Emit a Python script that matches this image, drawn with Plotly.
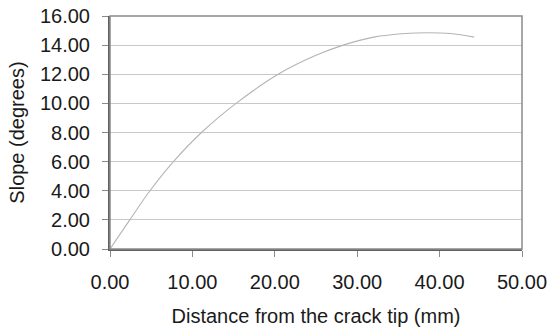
import plotly.graph_objects as go

distance_mm = [0, 2.4, 4.85, 7.7, 11.1, 15.3, 20.4, 25.0, 28.3, 32.0, 35.8, 38.5, 41.3, 44.2]
slope_deg = [0, 2.0, 4.0, 6.0, 8.0, 10.0, 12.0, 13.3, 14.0, 14.55, 14.8, 14.85, 14.8, 14.55]

x_ticks = [0, 10, 20, 30, 40, 50]
y_ticks = [0, 2, 4, 6, 8, 10, 12, 14, 16]

font_family = "Liberation Sans, Arial, sans-serif"

fig = go.Figure()
fig.add_trace(go.Scatter(
    x=distance_mm, y=slope_deg, mode="lines",
    line=dict(color="#b4b4b4", width=1.1, shape="spline", smoothing=1.0),
    hoverinfo="skip", showlegend=False,
))

fig.update_layout(
    width=548, height=330,
    margin=dict(l=110, r=26, t=16, b=81),
    paper_bgcolor="white", plot_bgcolor="white",
    font=dict(family=font_family, size=20, color="#1a1a1a"),
    showlegend=False,
    shapes=[dict(type="rect", xref="paper", yref="paper", x0=0, y0=0, x1=1, y1=1,
                 line=dict(color="#8a8a8a", width=1.5), layer="above")],
)
fig.update_xaxes(
    range=[0, 50], tickvals=x_ticks, ticktext=[f"{v:.2f}" for v in x_ticks],
    showgrid=False, zeroline=False, showline=True, linecolor="#606060", linewidth=2,
    ticks="outside", ticklen=6, tickcolor="#8a8a8a", tickwidth=1,
    tickfont=dict(size=20), ticklabelstandoff=8, fixedrange=True, automargin=False,
    title=dict(text="Distance from the crack tip (mm)", font=dict(size=20), standoff=17),
)
fig.update_yaxes(
    range=[0, 16], tickvals=y_ticks, ticktext=[f"{v:.2f}" for v in y_ticks],
    showgrid=True, gridcolor="#c8c8c8", gridwidth=1.2,
    zeroline=False, showline=True, linecolor="#606060", linewidth=2,
    ticks="outside", ticklen=6, tickcolor="#8a8a8a", tickwidth=1,
    tickfont=dict(size=20), ticklabelstandoff=8, fixedrange=True, automargin=False,
    title=dict(text="Slope (degrees)", font=dict(size=20), standoff=10),
)

fig.write_html("out.html")
